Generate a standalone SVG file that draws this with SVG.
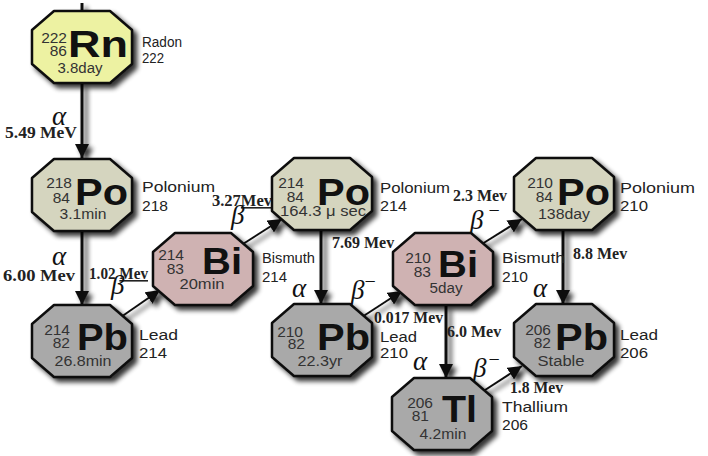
<svg xmlns="http://www.w3.org/2000/svg" xmlns:xlink="http://www.w3.org/1999/xlink" width="708" height="456" viewBox="0 0 708 456">
<style>
.oct{stroke:#111;stroke-width:2.5;stroke-linejoin:round}
.rn{fill:#edf2a2}.po{fill:#d5d5bf}.bi{fill:#cfb2b2}.pb{fill:#a9a9a9}
.num{font-family:"Liberation Sans",Arial,sans-serif;font-size:15.5px;fill:#333;text-anchor:end}
.sym{font-family:"Liberation Sans",Arial,sans-serif;font-weight:bold;font-size:36px;fill:#111}
.hl{font-family:"Liberation Sans",Arial,sans-serif;font-size:14px;fill:#333;text-anchor:middle}
.lab{font-family:"Liberation Sans",Arial,sans-serif;font-size:14px;fill:#222}
.en{font-family:"Liberation Serif","Times New Roman",serif;font-weight:bold;font-size:16px;fill:#222}
.gr{font-family:"Liberation Serif","Times New Roman",serif;font-style:italic;font-size:27px;fill:#111}
.ul{text-decoration:underline}
.v{stroke:#111;stroke-width:3;fill:none}
.d{stroke:#111;stroke-width:2;fill:none}
</style>
<defs>
<filter id="sh" x="-20%" y="-20%" width="150%" height="150%">
<feGaussianBlur in="SourceAlpha" stdDeviation="2.5"/>
<feOffset dx="4" dy="4" result="b"/>
<feComponentTransfer><feFuncA type="linear" slope="0.8"/></feComponentTransfer>
<feMerge><feMergeNode/><feMergeNode in="SourceGraphic"/></feMerge>
</filter>
<polygon id="oct" points="22,0 78,0 100,19 100,53 78,72 22,72 0,53 0,19"/>
<marker id="ah" markerUnits="userSpaceOnUse" markerWidth="15" markerHeight="14" refX="14" refY="7" orient="auto" viewBox="0 0 15 14">
<path d="M0,0 L14,7 L0,14 z" fill="#111"/>
</marker>
</defs>
<rect width="708" height="456" fill="#fff"/>

<g id="connectors" filter="url(#sh)">
<line class="v" x1="82" y1="3" x2="82" y2="11"/>
<line class="v" x1="82" y1="83" x2="82" y2="158" marker-end="url(#ah)"/>
<line class="v" x1="82" y1="231" x2="82" y2="305" marker-end="url(#ah)"/>
<line class="d" x1="121" y1="317" x2="160" y2="290" marker-end="url(#ah)"/>
<line class="d" x1="243" y1="244" x2="282" y2="219" marker-end="url(#ah)"/>
<line class="v" x1="321" y1="230" x2="321" y2="304" marker-end="url(#ah)"/>
<line class="d" x1="362" y1="317" x2="402" y2="291" marker-end="url(#ah)"/>
<line class="d" x1="482" y1="244" x2="522" y2="219" marker-end="url(#ah)"/>
<line class="v" x1="563" y1="230" x2="563" y2="304" marker-end="url(#ah)"/>
<line class="v" x1="446" y1="305" x2="446" y2="378" marker-end="url(#ah)"/>
<line class="d" x1="482" y1="392" x2="522" y2="366" marker-end="url(#ah)"/>
</g>

<g id="labels">
<text class="gr" x="52" y="125">α</text>
<text class="en" x="5" y="138" textLength="72" lengthAdjust="spacingAndGlyphs">5.49 MeV</text>
<text class="gr" x="52" y="265">α</text>
<text class="en" x="3" y="281" textLength="72" lengthAdjust="spacingAndGlyphs">6.00 Mev</text>
<text class="en" x="89" y="279" textLength="59" lengthAdjust="spacingAndGlyphs">1.02 <tspan class="ul">Mev</tspan></text>
<text class="gr" x="111" y="294" font-size="25">β</text>
<text class="en" x="212" y="206" textLength="60" lengthAdjust="spacingAndGlyphs">3.27<tspan class="ul">Mev</tspan></text>
<text class="gr" x="231" y="224" font-size="25">β</text>
<text class="en" x="332" y="248">7.69 Mev</text>
<text class="gr" x="292" y="297">α</text>
<text class="gr" x="351" y="299" font-size="25">β<tspan dy="-11" font-style="normal" font-size="20">−</tspan></text>
<text class="en" x="374" y="323" textLength="69" lengthAdjust="spacingAndGlyphs">0.017 Mev</text>
<text class="en" x="453" y="201" textLength="54" lengthAdjust="spacingAndGlyphs">2.3 Mev</text>
<text class="gr" x="470" y="229" font-size="25">β<tspan dx="5" dy="-12" font-style="normal" font-size="20">−</tspan></text>
<text class="en" x="573" y="259">8.8 Mev</text>
<text class="gr" x="533" y="297">α</text>
<text class="en" x="447" y="337">6.0 Mev</text>
<text class="gr" x="413" y="370">α</text>
<text class="gr" x="473" y="377" font-size="25">β<tspan dx="2" dy="-11" font-style="normal" font-size="20">−</tspan></text>
<text class="en" x="510" y="393" textLength="53" lengthAdjust="spacingAndGlyphs">1.8 Mev</text>
</g>

<g id="Rn222">
<use href="#oct" xlink:href="#oct" x="32" y="11" class="oct rn" filter="url(#sh)"/>
<text class="num" x="67" y="43">222</text>
<text class="num" x="67" y="56">86</text>
<text class="sym" x="68" y="57" font-size="35" textLength="60" lengthAdjust="spacingAndGlyphs">Rn</text>
<text class="hl" x="80" y="73" textLength="45" lengthAdjust="spacingAndGlyphs">3.8day</text>
<text class="lab" x="142" y="47" textLength="40" lengthAdjust="spacingAndGlyphs">Radon</text>
<text class="lab" x="142" y="63" textLength="22" lengthAdjust="spacingAndGlyphs">222</text>
</g>

<g id="Po218">
<use href="#oct" xlink:href="#oct" x="32" y="159" class="oct po" filter="url(#sh)"/>
<text class="num" x="72" y="188">218</text>
<text class="num" x="70" y="203">84</text>
<text class="sym" x="75" y="205" textLength="53" lengthAdjust="spacingAndGlyphs">Po</text>
<text class="hl" x="83" y="219" textLength="47" lengthAdjust="spacingAndGlyphs">3.1min</text>
<text class="lab" x="142" y="192" textLength="73" lengthAdjust="spacingAndGlyphs">Polonium</text>
<text class="lab" x="142" y="211" textLength="26" lengthAdjust="spacingAndGlyphs">218</text>
</g>

<g id="Pb214">
<use href="#oct" xlink:href="#oct" x="32" y="305" class="oct pb" filter="url(#sh)"/>
<text class="num" x="70" y="335">214</text>
<text class="num" x="70" y="348">82</text>
<text class="sym" x="77" y="350" textLength="51" lengthAdjust="spacingAndGlyphs">Pb</text>
<text class="hl" x="83" y="366" textLength="57" lengthAdjust="spacingAndGlyphs">26.8min</text>
<text class="lab" x="139" y="340" textLength="39" lengthAdjust="spacingAndGlyphs">Lead</text>
<text class="lab" x="139" y="358" textLength="28" lengthAdjust="spacingAndGlyphs">214</text>
</g>

<g id="Bi214">
<use href="#oct" xlink:href="#oct" x="153" y="233" class="oct bi" filter="url(#sh)"/>
<text class="num" x="184" y="260">214</text>
<text class="num" x="184" y="274">83</text>
<text class="sym" x="202" y="274" textLength="40" lengthAdjust="spacingAndGlyphs">Bi</text>
<text class="hl" x="202" y="289" textLength="45" lengthAdjust="spacingAndGlyphs">20min</text>
<text class="lab" x="262" y="263" textLength="53" lengthAdjust="spacingAndGlyphs">Bismuth</text>
<text class="lab" x="262" y="282" textLength="25" lengthAdjust="spacingAndGlyphs">214</text>
</g>

<g id="Po214">
<use href="#oct" xlink:href="#oct" x="272" y="158" class="oct po" filter="url(#sh)"/>
<text class="num" x="304" y="188">214</text>
<text class="num" x="304" y="202">84</text>
<text class="sym" x="317" y="205" textLength="53" lengthAdjust="spacingAndGlyphs">Po</text>
<text class="hl" x="323" y="216" textLength="86" lengthAdjust="spacingAndGlyphs">164.3 μ sec</text>
<text class="lab" x="380" y="193" textLength="70" lengthAdjust="spacingAndGlyphs">Polonium</text>
<text class="lab" x="380" y="211" textLength="27" lengthAdjust="spacingAndGlyphs">214</text>
</g>

<g id="Pb210">
<use href="#oct" xlink:href="#oct" x="272" y="304" class="oct pb" filter="url(#sh)"/>
<text class="num" x="303" y="337">210</text>
<text class="num" x="305" y="349">82</text>
<text class="sym" x="317" y="350" textLength="53" lengthAdjust="spacingAndGlyphs">Pb</text>
<text class="hl" x="320" y="366" textLength="45" lengthAdjust="spacingAndGlyphs">22.3yr</text>
<text class="lab" x="380" y="342" textLength="37" lengthAdjust="spacingAndGlyphs">Lead</text>
<text class="lab" x="380" y="358" textLength="28" lengthAdjust="spacingAndGlyphs">210</text>
</g>

<g id="Bi210">
<use href="#oct" xlink:href="#oct" x="393" y="233" class="oct bi" filter="url(#sh)"/>
<text class="num" x="431" y="263">210</text>
<text class="num" x="431" y="277">83</text>
<text class="sym" x="438" y="277" textLength="40" lengthAdjust="spacingAndGlyphs">Bi</text>
<text class="hl" x="446" y="293" textLength="33" lengthAdjust="spacingAndGlyphs">5day</text>
<text class="lab" x="502" y="263" textLength="63" lengthAdjust="spacingAndGlyphs">Bismuth</text>
<text class="lab" x="502" y="282" textLength="26" lengthAdjust="spacingAndGlyphs">210</text>
</g>

<g id="Po210">
<use href="#oct" xlink:href="#oct" x="514" y="158" class="oct po" filter="url(#sh)"/>
<text class="num" x="553" y="188">210</text>
<text class="num" x="553" y="202">84</text>
<text class="sym" x="557" y="205" textLength="53" lengthAdjust="spacingAndGlyphs">Po</text>
<text class="hl" x="564" y="219" textLength="52" lengthAdjust="spacingAndGlyphs">138day</text>
<text class="lab" x="620" y="193" textLength="75" lengthAdjust="spacingAndGlyphs">Polonium</text>
<text class="lab" x="620" y="211" textLength="28" lengthAdjust="spacingAndGlyphs">210</text>
</g>

<g id="Pb206">
<use href="#oct" xlink:href="#oct" x="514" y="304" class="oct pb" filter="url(#sh)"/>
<text class="num" x="551" y="335">206</text>
<text class="num" x="551" y="348">82</text>
<text class="sym" x="555" y="350" textLength="53" lengthAdjust="spacingAndGlyphs">Pb</text>
<text class="hl" x="561" y="366" textLength="47" lengthAdjust="spacingAndGlyphs">Stable</text>
<text class="lab" x="620" y="340" textLength="38" lengthAdjust="spacingAndGlyphs">Lead</text>
<text class="lab" x="620" y="358" textLength="28" lengthAdjust="spacingAndGlyphs">206</text>
</g>

<g id="Tl206">
<use href="#oct" xlink:href="#oct" x="392" y="378" class="oct pb" filter="url(#sh)"/>
<text class="num" x="433" y="408">206</text>
<text class="num" x="429" y="421">81</text>
<text class="sym" x="442" y="422" textLength="35" lengthAdjust="spacingAndGlyphs">Tl</text>
<text class="hl" x="443" y="439" textLength="47" lengthAdjust="spacingAndGlyphs">4.2min</text>
<text class="lab" x="502" y="412" textLength="66" lengthAdjust="spacingAndGlyphs">Thallium</text>
<text class="lab" x="502" y="430" textLength="26" lengthAdjust="spacingAndGlyphs">206</text>
</g>
</svg>
